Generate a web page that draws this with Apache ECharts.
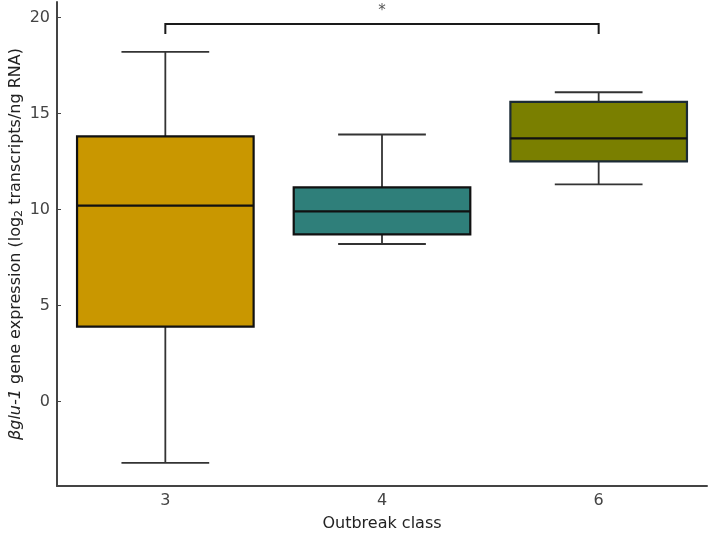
<!DOCTYPE html>
<html>
<head>
<meta charset="utf-8">
<script src="https://cdn.jsdelivr.net/npm/echarts@6/dist/echarts.min.js"></script>
<style>
  html, body { margin: 0; padding: 0; background: #fff; }
  #container { width: 709px; height: 533px; }
</style>
</head>
<body>
<div id="container"></div>
<script>
// outbreak classes and box statistics
var categories = ['3', '4', '6'];
var whiskerLow = [-3.2, 8.2, 11.3];
var q1 = [3.9, 8.7, 12.5];
var median = [10.2, 9.9, 13.7];
var q3 = [13.8, 11.15, 15.6];
var whiskerHigh = [18.2, 13.9, 16.1];
var yTicks = [0, 5, 10, 15, 20];

// significance bracket between class 3 and class 6
var sigPair = ['3', '6'];
var sigBarY = 19.66;
var sigDropY = 19.13;
var sigStarY = 20.3;
var sigLabel = '*';

var boxColors = ['#c99700', '#2f7f7a', '#7a7f00'];
var boxBorders = ['#111', '#111', '#1c2b36'];

var dom = document.getElementById('container');
var myChart = echarts.init(dom, null, { renderer: 'canvas' });
var font = 'DejaVu Sans';

var boxData = categories.map(function (c, i) {
  return [i, whiskerLow[i], q1[i], median[i], q3[i], whiskerHigh[i]];
});

function renderBox(params, api) {
  var idx = params.dataIndex;
  var x = api.value(0);
  var band = api.size([1, 0])[0];
  var halfBox = band * 0.815 / 2;
  var halfCap = band * 0.405 / 2;
  var pLow = api.coord([x, api.value(1)]);
  var pQ1 = api.coord([x, api.value(2)]);
  var pMed = api.coord([x, api.value(3)]);
  var pQ3 = api.coord([x, api.value(4)]);
  var pHigh = api.coord([x, api.value(5)]);
  var cx = pLow[0];
  var wStyle = { stroke: '#333', lineWidth: 1.8 };
  return {
    type: 'group',
    children: [
      { type: 'line', shape: { x1: cx, y1: pQ3[1], x2: cx, y2: pHigh[1] }, style: wStyle },
      { type: 'line', shape: { x1: cx, y1: pQ1[1], x2: cx, y2: pLow[1] }, style: wStyle },
      { type: 'line', shape: { x1: cx - halfCap, y1: pHigh[1], x2: cx + halfCap, y2: pHigh[1] }, style: wStyle },
      { type: 'line', shape: { x1: cx - halfCap, y1: pLow[1], x2: cx + halfCap, y2: pLow[1] }, style: wStyle },
      {
        type: 'rect',
        shape: { x: cx - halfBox, y: pQ3[1], width: halfBox * 2, height: pQ1[1] - pQ3[1] },
        style: { fill: boxColors[idx], stroke: boxBorders[idx], lineWidth: 2.2 }
      },
      {
        type: 'line',
        shape: { x1: cx - halfBox, y1: pMed[1], x2: cx + halfBox, y2: pMed[1] },
        style: { stroke: '#111', lineWidth: 2.2 }
      }
    ]
  };
}

function renderBracket(params, api) {
  var a = api.coord([api.value(0), api.value(2)]);
  var b = api.coord([api.value(1), api.value(2)]);
  var drop = api.coord([api.value(0), api.value(3)])[1];
  var star = api.coord([api.value(0), api.value(4)])[1];
  return {
    type: 'group',
    children: [
      {
        type: 'polyline',
        shape: { points: [[a[0], drop], [a[0], a[1]], [b[0], b[1]], [b[0], drop]] },
        style: { stroke: '#1a1a1a', lineWidth: 2, fill: null }
      },
      {
        type: 'text',
        style: {
          x: (a[0] + b[0]) / 2, y: star, text: sigLabel,
          fill: '#555', font: '15px "' + font + '"',
          align: 'center', verticalAlign: 'middle'
        }
      }
    ]
  };
}

var option = {
  backgroundColor: '#fff',
  animation: false,
  grid: { left: 57, right: 2, top: 2, bottom: 47, containLabel: false, outerBoundsMode: 'none' },
  xAxis: {
    type: 'category',
    data: categories,
    boundaryGap: true,
    name: 'Outbreak class',
    nameLocation: 'middle',
    nameGap: 30,
    nameMoveOverlap: false,
    nameTextStyle: { fontFamily: font, fontSize: 16, color: '#222' },
    axisLine: { onZero: false, lineStyle: { color: '#444', width: 2 } },
    axisTick: { alignWithLabel: true, inside: true, length: 4, lineStyle: { color: '#444' } },
    axisLabel: { fontFamily: font, fontSize: 16, color: '#444', margin: 7 },
    splitLine: { show: false }
  },
  yAxis: {
    type: 'value',
    min: -4.4,
    max: 20.8,
    name: '{it|βglu-1}{n| gene expression (log}{sub|2}{n| transcripts/ng RNA)}',
    nameLocation: 'middle',
    nameGap: 32,
    nameMoveOverlap: false,
    nameTextStyle: {
      fontFamily: font, fontSize: 16, color: '#222',
      rich: {
        it: { fontFamily: font, fontSize: 16, fontStyle: 'italic', color: '#222' },
        n: { fontFamily: font, fontSize: 16, color: '#222' },
        sub: { fontFamily: font, fontSize: 11, color: '#222', padding: [8, 0, 0, 0] }
      }
    },
    axisLine: { show: true, onZero: false, lineStyle: { color: '#444', width: 2 } },
    axisTick: { show: true, inside: true, length: 4, customValues: yTicks, lineStyle: { color: '#444' } },
    axisLabel: { fontFamily: font, fontSize: 16, color: '#444', margin: 7, customValues: yTicks },
    splitLine: { show: false }
  },
  series: [
    {
      type: 'custom',
      renderItem: renderBox,
      data: boxData,
      encode: { x: 0, y: [1, 2, 3, 4, 5] },
      clip: false
    },
    {
      type: 'custom',
      renderItem: renderBracket,
      data: [[categories.indexOf(sigPair[0]), categories.indexOf(sigPair[1]), sigBarY, sigDropY, sigStarY]],
      encode: { x: [0, 1], y: [2, 3, 4] },
      clip: false
    }
  ]
};

if (option && typeof option === 'object') {
  myChart.setOption(option);
}

window.addEventListener('resize', myChart.resize);
</script>
</body>
</html>
